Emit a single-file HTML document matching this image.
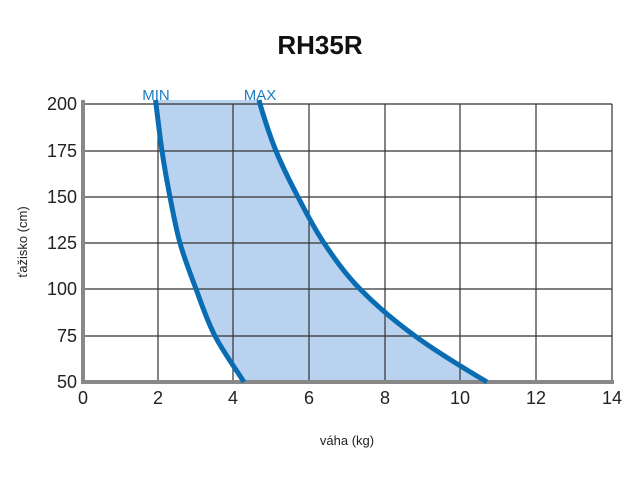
<!DOCTYPE html>
<html><head><meta charset="utf-8"><style>body{margin:0;background:#fff}svg{display:block}</style></head><body>
<svg width="640" height="480" xmlns="http://www.w3.org/2000/svg" font-family="Liberation Sans, sans-serif">
<rect width="640" height="480" fill="#fff"/>
<text x="320" y="54" text-anchor="middle" font-size="26" font-weight="bold" fill="#111">RH35R</text>
<path d="M155.5,100 L156,104 C158,119.7 159.7,135.5 162,151 C164.3,166.5 167,181.7 170,197 C173,212.3 175.7,227.7 180,243 C184.3,258.3 190.2,273.5 196,289 C201.8,304.5 207,320.5 215,336 C223,351.5 234.3,366.7 244,382 L487,382 C461.2,366.7 436.2,351.5 415,336 C393.8,320.5 375.2,304.5 360,289 C344.8,273.5 334.3,258.3 324,243 C313.7,227.7 306,212.3 298,197 C290,181.7 282.3,166.5 276,151 C269.7,135.5 264.7,119.7 260,104 L259,100 Z" fill="#b8d2ef"/>
<g stroke="#333" stroke-width="1.2">
<line x1="83" y1="104" x2="612" y2="104"/><line x1="83" y1="151" x2="612" y2="151"/><line x1="83" y1="197" x2="612" y2="197"/><line x1="83" y1="243" x2="612" y2="243"/><line x1="83" y1="289" x2="612" y2="289"/><line x1="83" y1="336" x2="612" y2="336"/>
<line x1="158" y1="104" x2="158" y2="382"/><line x1="233" y1="104" x2="233" y2="382"/><line x1="309" y1="104" x2="309" y2="382"/><line x1="385" y1="104" x2="385" y2="382"/><line x1="460" y1="104" x2="460" y2="382"/><line x1="536" y1="104" x2="536" y2="382"/><line x1="612" y1="104" x2="612" y2="382"/>
</g>
<line x1="83" y1="100" x2="83" y2="384" stroke="#888" stroke-width="4"/>
<line x1="81" y1="382" x2="614" y2="382" stroke="#888" stroke-width="4"/>
<path d="M155.5,100 L156,104 C158,119.7 159.7,135.5 162,151 C164.3,166.5 167,181.7 170,197 C173,212.3 175.7,227.7 180,243 C184.3,258.3 190.2,273.5 196,289 C201.8,304.5 207,320.5 215,336 C223,351.5 234.3,366.7 244,382" fill="none" stroke="#0a6db3" stroke-width="5"/>
<path d="M259,100 L260,104 C264.7,119.7 269.7,135.5 276,151 C282.3,166.5 290,181.7 298,197 C306,212.3 313.7,227.7 324,243 C334.3,258.3 344.8,273.5 360,289 C375.2,304.5 393.8,320.5 415,336 C436.2,351.5 461.2,366.7 487,382" fill="none" stroke="#0a6db3" stroke-width="5"/>
<text x="156" y="100" text-anchor="middle" font-size="15" fill="#1a7cc1">MIN</text>
<text x="260" y="100" text-anchor="middle" font-size="15" fill="#1a7cc1">MAX</text>
<g font-size="18" fill="#222" text-anchor="end">
<text x="77" y="110">200</text><text x="77" y="157">175</text><text x="77" y="203">150</text><text x="77" y="249">125</text><text x="77" y="295">100</text><text x="77" y="342">75</text><text x="77" y="388">50</text>
</g>
<g font-size="18" fill="#222" text-anchor="middle">
<text x="83" y="404">0</text><text x="158" y="404">2</text><text x="233" y="404">4</text><text x="309" y="404">6</text><text x="385" y="404">8</text><text x="460" y="404">10</text><text x="536" y="404">12</text><text x="612" y="404">14</text>
</g>
<text x="347" y="445" text-anchor="middle" font-size="13" fill="#222">váha (kg)</text>
<text transform="translate(27,242) rotate(-90)" text-anchor="middle" font-size="13" fill="#222">ťažisko (cm)</text>
</svg>
</body></html>
